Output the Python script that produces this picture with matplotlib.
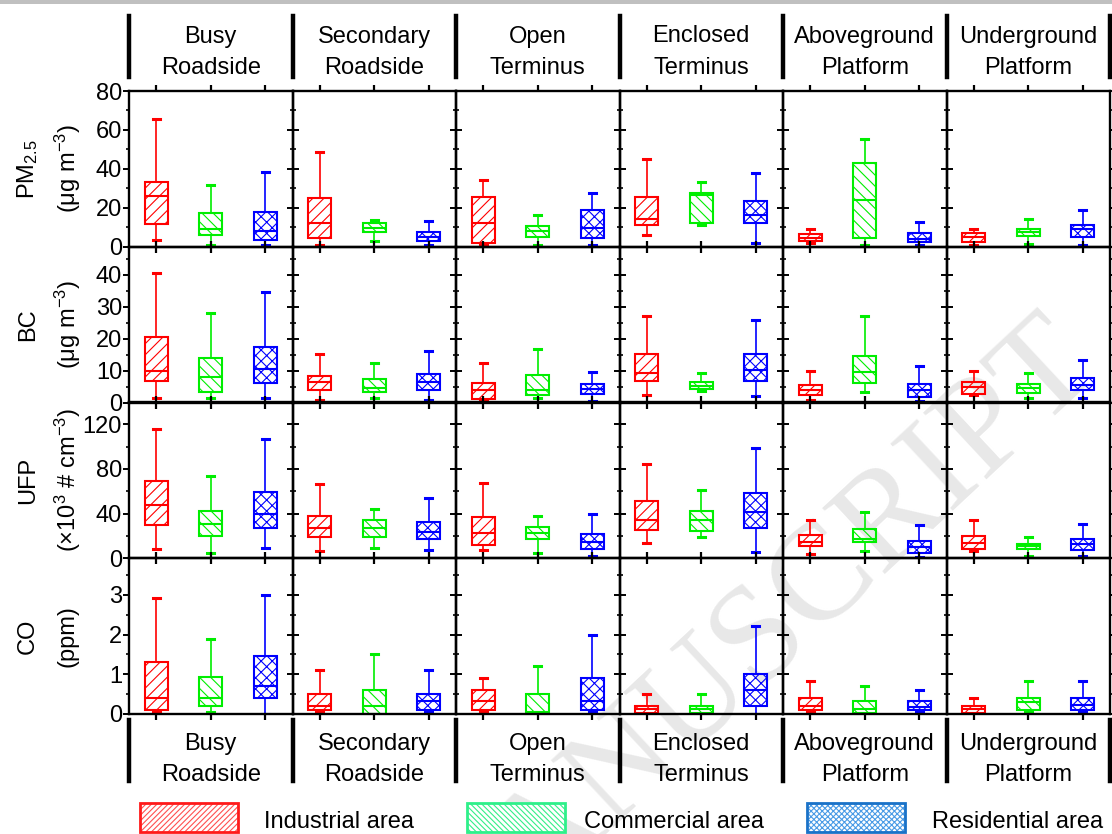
import matplotlib
matplotlib.use("Agg")
import matplotlib.pyplot as plt
from matplotlib.lines import Line2D
from matplotlib.patches import Rectangle
from matplotlib.ticker import MultipleLocator

plt.rcParams["font.family"] = ["Liberation Sans", "DejaVu Sans"]
plt.rcParams["mathtext.fontset"] = "custom"
plt.rcParams["mathtext.rm"] = "Liberation Sans"
plt.rcParams["mathtext.it"] = "Liberation Sans:italic"
plt.rcParams["hatch.linewidth"] = 0.8

sites_top = ["Busy", "Secondary", "Open", "Enclosed", "Aboveground", "Underground"]
sites_bot = ["Roadside", "Roadside", "Terminus", "Terminus", "Platform", "Platform"]
areas = ["Industrial area", "Commercial area", "Residential area"]
colors = ["#ff0000", "#00ee00", "#0000ff"]
hatches = ["///", "\\\\\\", "xxx"]

# per site: [whisker low, Q1, median, Q3, whisker high] for industrial, commercial, residential
pm25 = [
    [[3.6, 11.7, 26.2, 33.4, 65.4], [0.9, 6.0, 9.3, 17.2, 31.5], [0.9, 3.4, 8.3, 18.1, 38.6]],
    [[0.9, 4.3, 12.2, 24.8, 48.9], [2.8, 7.4, 9.8, 12.4, 13.8], [0.9, 2.8, 5.0, 7.6, 13.1]],
    [[1.2, 1.7, 12.2, 25.8, 34.3], [0.9, 5.2, 8.3, 10.8, 16.5], [1.0, 4.3, 9.5, 19.1, 27.7]],
    [[6.2, 11.4, 14.5, 25.8, 45.1], [11.2, 12.4, 26.6, 27.8, 33.2], [2.1, 12.4, 16.5, 23.4, 37.9]],
    [[2.1, 2.9, 4.6, 6.4, 9.3], [1.0, 4.3, 24.1, 43.0, 55.2], [0.7, 2.2, 3.8, 6.9, 12.7]],
    [[1.0, 2.4, 5.2, 7.2, 9.3], [1.4, 5.3, 7.4, 9.0, 14.1], [0.9, 5.2, 9.0, 11.0, 18.8]],
]
bc = [
    [[1.5, 6.7, 9.8, 20.4, 40.5], [1.5, 3.4, 8.0, 14.0, 28.0], [1.3, 6.0, 10.4, 17.5, 34.5]],
    [[0.7, 3.8, 6.5, 8.4, 15.2], [1.4, 3.2, 4.4, 7.4, 12.5], [0.7, 3.8, 6.3, 8.8, 16.0]],
    [[0.6, 1.1, 3.9, 6.2, 12.5], [1.3, 2.5, 4.0, 8.6, 16.8], [0.5, 2.8, 4.2, 5.8, 9.5]],
    [[2.3, 6.6, 9.3, 15.3, 27.2], [3.7, 4.2, 5.3, 6.5, 9.2], [1.9, 6.6, 10.1, 15.3, 25.8]],
    [[0.8, 2.4, 4.0, 5.5, 9.7], [3.4, 6.0, 9.6, 14.6, 27.2], [0.4, 1.6, 3.8, 5.7, 11.3]],
    [[2.4, 2.8, 4.8, 6.4, 10.0], [1.3, 2.9, 4.4, 5.7, 9.1], [1.5, 3.8, 5.5, 7.8, 13.2]],
]
ufp = [
    [[8.7, 29.9, 47.5, 69.0, 115.5], [4.8, 20.3, 31.0, 42.7, 73.7], [9.6, 26.9, 40.0, 59.4, 107.2]],
    [[6.3, 18.8, 26.9, 38.2, 66.6], [9.0, 19.1, 27.2, 34.3, 44.2], [7.5, 17.0, 23.9, 32.5, 53.7]],
    [[7.8, 12.2, 22.4, 37.0, 67.2], [4.5, 17.6, 22.4, 27.8, 38.2], [1.8, 8.1, 14.9, 21.8, 39.4]],
    [[13.4, 25.4, 34.6, 51.6, 84.5], [18.8, 24.5, 34.0, 42.4, 60.9], [5.4, 27.5, 41.2, 58.8, 98.5]],
    [[3.9, 10.7, 14.6, 20.9, 34.6], [6.6, 14.6, 17.6, 26.3, 41.8], [1.5, 5.1, 10.4, 15.5, 29.9]],
    [[6.3, 8.7, 14.0, 19.7, 34.6], [1.8, 8.1, 11.0, 12.8, 19.4], [1.8, 7.5, 12.5, 17.3, 30.4]],
]
co = [
    [[0.05, 0.1, 0.41, 1.31, 2.91], [0.05, 0.19, 0.41, 0.92, 1.9], [0.0, 0.4, 0.7, 1.47, 3.0]],
    [[0.08, 0.11, 0.21, 0.51, 1.11], [0.0, 0.0, 0.21, 0.61, 1.51], [0.08, 0.11, 0.32, 0.51, 1.11]],
    [[0.08, 0.11, 0.32, 0.61, 0.91], [0.0, 0.02, 0.05, 0.51, 1.2], [0.08, 0.11, 0.32, 0.91, 2.0]],
    [[0.0, 0.02, 0.12, 0.21, 0.51], [0.0, 0.02, 0.12, 0.21, 0.51], [0.0, 0.19, 0.61, 1.01, 2.21]],
    [[0.08, 0.11, 0.21, 0.41, 0.82], [0.0, 0.02, 0.12, 0.32, 0.71], [0.08, 0.11, 0.17, 0.32, 0.61]],
    [[0.0, 0.02, 0.12, 0.21, 0.41], [0.08, 0.11, 0.31, 0.41, 0.82], [0.08, 0.11, 0.23, 0.41, 0.82]],
]

rows = [
    (pm25, "PM$_{2.5}$", "(μg m$^{-3}$)", 80, 20, 10),
    (bc, "BC", "(μg m$^{-3}$)", 48.7, 10, 5),
    (ufp, "UFP", "(×10$^{3}$ # cm$^{-3}$)", 139.5, 40, 20),
    (co, "CO", "(ppm)", 3.92, 1, 0.5),
]

W, H = 1112, 834
fig = plt.figure(figsize=(W / 100, H / 100), dpi=100)


def fx(px):
    return px / W


def fy(py):
    return 1 - py / H


x0, x1 = 129, 1110
top, bottom = 91, 714
cw = (x1 - x0) / 6
rh = (bottom - top) / 4

# faint watermark
fig.text(fx(1102), fy(372), "ACCEPTED MANUSCRIPT", ha="right", va="baseline",
         rotation=43, rotation_mode="anchor", fontsize=100,
         family="Liberation Serif", color="#e8e8e8", zorder=-1)

for r, (data, lab1, lab2, ymax, major, minor) in enumerate(rows):
    for c in range(6):
        ax = fig.add_axes([fx(x0 + c * cw), fy(top + (r + 1) * rh), cw / W, rh / H])
        ax.set_facecolor("none")
        stats = []
        for vals in data[c]:
            lo, q1, med, q3, hi = vals
            stats.append(dict(whislo=lo, q1=q1, med=med, q3=q3, whishi=hi, fliers=[]))
        bp = ax.bxp(stats, positions=[1, 2, 3], widths=0.42, capwidths=0.12,
                    patch_artist=True, showfliers=False, manage_ticks=False)
        for k in range(3):
            box = bp["boxes"][k]
            box.set_facecolor("none")
            box.set_edgecolor(colors[k])
            box.set_linewidth(1.5)
            box.set_hatch(hatches[k])
            bp["medians"][k].set_color(colors[k])
            bp["medians"][k].set_linewidth(1.5)
            for ln in bp["whiskers"][2 * k:2 * k + 2] + bp["caps"][2 * k:2 * k + 2]:
                ln.set_color(colors[k])
                ln.set_linewidth(1.2)
            for ln in bp["caps"][2 * k:2 * k + 2]:
                ln.set_linewidth(2.2)
        ax.set_xlim(0.5, 3.5)
        ax.set_ylim(0, ymax)
        ax.set_xticks([1, 2, 3])
        ax.yaxis.set_major_locator(MultipleLocator(major))
        ax.yaxis.set_minor_locator(MultipleLocator(minor))
        for s in ax.spines.values():
            s.set_linewidth(1.7)
        ax.tick_params(axis="x", which="major", direction="out", top=True, bottom=True,
                       labelbottom=False, length=4, width=1.6)
        ax.tick_params(axis="y", which="major", direction="out", left=True, right=True,
                       labelleft=(c == 0), length=4, width=1.4, labelsize=17, pad=1)
        ax.tick_params(axis="y", which="minor", direction="out", left=True, right=True,
                       length=2.5, width=1.2)
    yc = top + (r + 0.5) * rh
    fig.text(fx(28), fy(yc), lab1, rotation=90, ha="center", va="center", fontsize=17)
    fig.text(fx(68), fy(yc), lab2, rotation=90, ha="center", va="center", fontsize=17)

# group headers with thick separators, top and bottom
for y_a, y_b, base1, base2 in [(16, 77, 42.5, 73.5), (720, 781, 750, 781)]:
    for c in range(7):
        xb = x0 + c * cw
        fig.add_artist(Line2D([fx(xb), fx(xb)], [fy(y_a), fy(y_b)], color="black",
                              linewidth=3.2, transform=fig.transFigure))
    for c in range(6):
        xm = fx(x0 + (c + 0.5) * cw)
        fig.text(xm, fy(base1), sites_top[c], ha="center", va="baseline", fontsize=17)
        fig.text(xm, fy(base2), sites_bot[c], ha="center", va="baseline", fontsize=17)

# legend drawn as patches
leg_x = [140, 467, 807]
leg_text_x = [264, 584, 932]
leg_edge = ["#ff1a1a", "#2ef08a", "#1a72c8"]
leg_hatch = ["//////", "\\\\\\\\\\\\", "xxxxxx"]
leg_hatch_col = ["#ff5050", "#33ee88", "#4a9be6"]
for k in range(3):
    fig.add_artist(Rectangle((fx(leg_x[k]), fy(832)), 98 / W, 29 / H, transform=fig.transFigure,
                             facecolor="white", edgecolor=leg_hatch_col[k], hatch=leg_hatch[k],
                             linewidth=0))
    fig.add_artist(Rectangle((fx(leg_x[k]), fy(832)), 98 / W, 29 / H, transform=fig.transFigure,
                             facecolor="none", edgecolor=leg_edge[k], linewidth=2))
    fig.text(fx(leg_text_x[k]), fy(828), areas[k], ha="left", va="baseline", fontsize=17)

# grey rule at the very top
fig.add_artist(Rectangle((0, fy(4)), 1, 4 / H, transform=fig.transFigure,
                         facecolor="#c0c0c0", edgecolor="none"))

fig.savefig("out.png", dpi=100)
